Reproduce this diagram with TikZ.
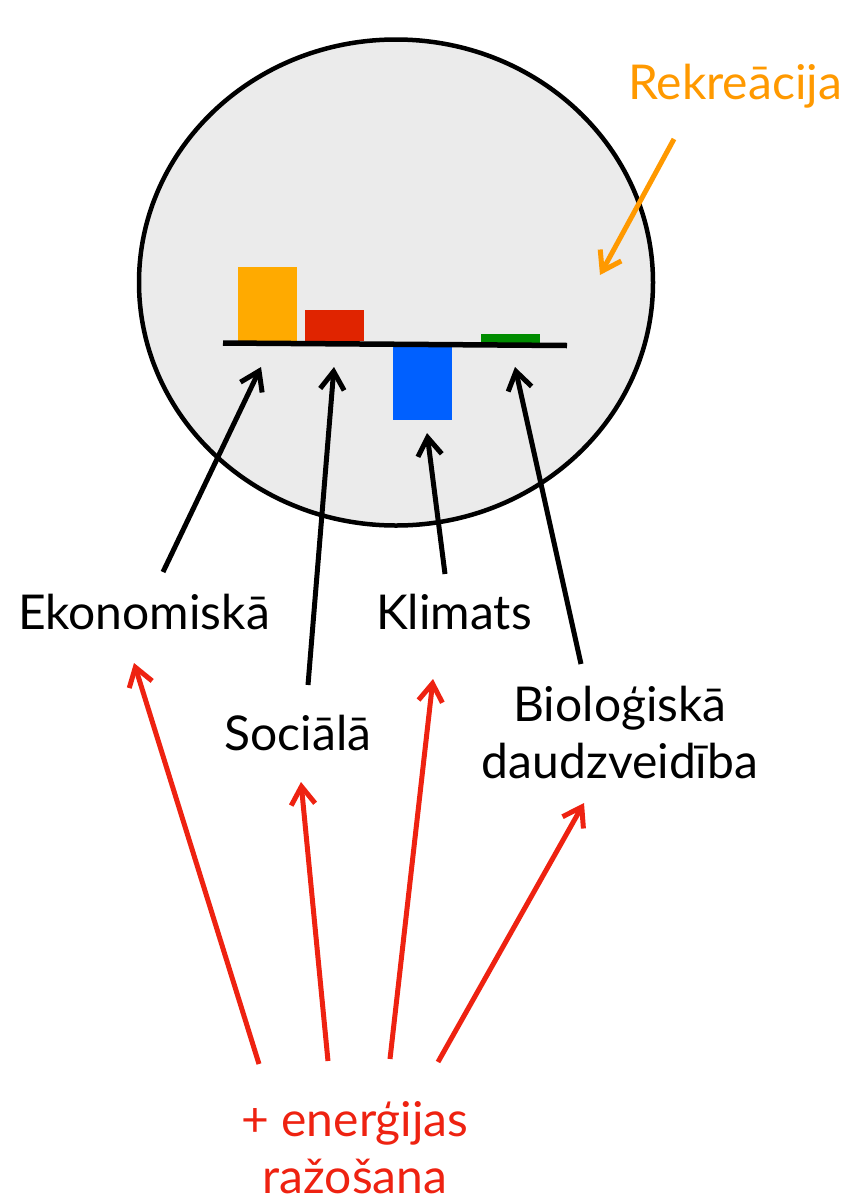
\documentclass[tikz,border=0pt]{standalone}
\usepackage{fontspec}
\setmainfont{Lato}
\usetikzlibrary{arrows.meta}
\definecolor{cfill}{HTML}{EBEBEB}
\definecolor{cbarorange}{HTML}{FFAA00}
\definecolor{cbarred}{HTML}{E02400}
\definecolor{cbarblue}{HTML}{0060FF}
\definecolor{cbargreen}{HTML}{008C00}
\definecolor{corange}{HTML}{FF9900}
\definecolor{cred}{HTML}{EE2211}
\begin{document}
\begin{tikzpicture}[x=1pt,y=-1pt,
  lbl/.style={font=\fontsize{48}{57}\selectfont, inner sep=0pt, anchor=base, align=center},
  arr/.style={line width=5pt, -{Straight Barb[length=18pt,width=24pt]}},
  blackarr/.style={arr, draw=black},
  redarr/.style={arr, draw=cred},
  orangearr/.style={arr, draw=corange}]
\useasboundingbox (0,0) rectangle (846,1200);
% circle
\draw[line width=4.5pt, fill=cfill] (396,282.5) ellipse [x radius=257pt, y radius=243pt];
% bars
\fill[cbarorange] (238,267) rectangle (297,341);
\fill[cbarred] (305,310) rectangle (364,341);
\fill[cbarblue] (393,347) rectangle (452,420);
\fill[cbargreen] (481,334) rectangle (540,347);
\draw[line width=5.5pt] (223,343) -- (567,345.5);
% labels
\node[lbl] (eko) at (144,629) {Ekonomiskā};
\node[lbl] (kli) at (454,629) {Klimats};
\node[lbl] (soc) at (298,750) {Sociālā};
\node[lbl] (bio) at (620,778) {Bioloģiskā\\daudzveidība};
\node[lbl, text=cred] (ene) at (355,1193) {+ enerģijas\\ražošana};
\node[lbl, text=corange] (rek) at (735,99) {Rekreācija};
% arrow end points
\coordinate (ekoS) at (163,572);  \coordinate (ekoT) at (261,367);
\coordinate (socS) at (308,685);  \coordinate (socT) at (334,367);
\coordinate (kliS) at (445,574);  \coordinate (kliT) at (427,433);
\coordinate (bioS) at (581,664);  \coordinate (bioT) at (515,367);
\coordinate (r1S) at (259,1064);  \coordinate (r1T) at (134,663);
\coordinate (r2S) at (328,1061);  \coordinate (r2T) at (301,782);
\coordinate (r3S) at (390,1059);  \coordinate (r3T) at (433,679);
\coordinate (r4S) at (438,1062);  \coordinate (r4T) at (584,803);
\coordinate (rekS) at (674,139);  \coordinate (rekT) at (600,275);
% arrows
\draw[blackarr] (ekoS) -- (ekoT);
\draw[blackarr] (socS) -- (socT);
\draw[blackarr] (kliS) -- (kliT);
\draw[blackarr] (bioS) -- (bioT);
\draw[redarr] (r1S) -- (r1T);
\draw[redarr] (r2S) -- (r2T);
\draw[redarr] (r3S) -- (r3T);
\draw[redarr] (r4S) -- (r4T);
\draw[orangearr] (rekS) -- (rekT);
\end{tikzpicture}
\end{document}
